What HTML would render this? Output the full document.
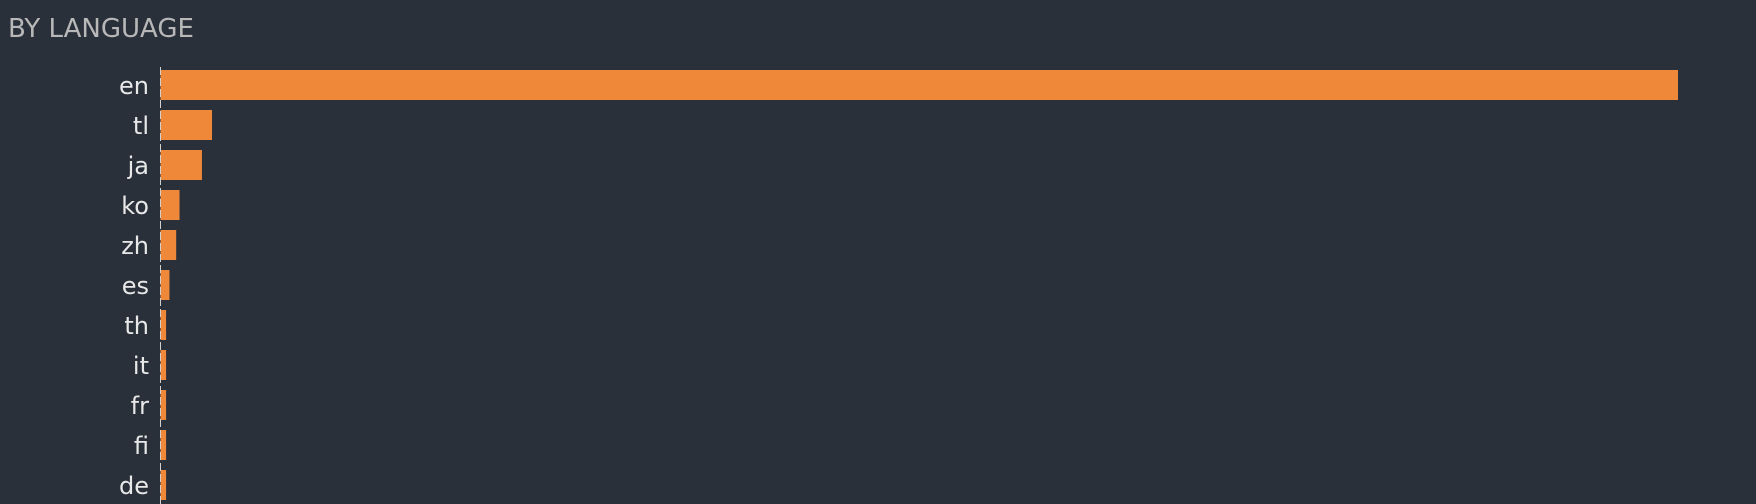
<!DOCTYPE html>
<html><head><meta charset="utf-8"><style>
html,body{margin:0;padding:0;background:#29303a;width:1756px;height:504px;overflow:hidden;font-family:"DejaVu Sans","Liberation Sans",sans-serif}
</style></head><body>
<svg width="1756" height="504" xmlns="http://www.w3.org/2000/svg">
<rect width="1756" height="504" fill="#29303a"/>
<text x="8" y="37" font-size="26" fill="#b8b8b8" font-family="DejaVu Sans, Liberation Sans, sans-serif">BY LANGUAGE</text>
<g id="bars"></g>
<line x1="160.5" y1="67" x2="160.5" y2="504" stroke="#d0d0d0" stroke-width="1" stroke-dasharray="8,3"/>
</svg>
<script>
const categories = ["en","tl","ja","ko","zh","es","th","it","fr","fi","de"];
const values = [1355,46,37,17,14,8,5,5,5,5,5];
const x0 = 160.5, maxW = 1517.5, barTop = 70, pitch = 40, barH = 30;
const maxV = Math.max(...values);
const xScale = v => v / maxV * maxW;
const g = document.getElementById('bars');
const NS = "http://www.w3.org/2000/svg";
categories.forEach((c, i) => {
  const y = barTop + i * pitch;
  const r = document.createElementNS(NS, 'rect');
  r.setAttribute('x', x0);
  r.setAttribute('y', y);
  r.setAttribute('width', xScale(values[i]));
  r.setAttribute('height', barH);
  r.setAttribute('fill', '#f0883a');
  
  
  g.appendChild(r);
  const t = document.createElementNS(NS, 'text');
  t.setAttribute('x', 149);
  t.setAttribute('y', y + 24);
  t.setAttribute('text-anchor', 'end');
  t.setAttribute('font-size', '24');
  t.setAttribute('fill', '#e8e8e8');
  t.setAttribute('font-family', 'DejaVu Sans, Liberation Sans, sans-serif');
  t.textContent = c;
  
  
  g.appendChild(t);
});
</script>
</body></html>
